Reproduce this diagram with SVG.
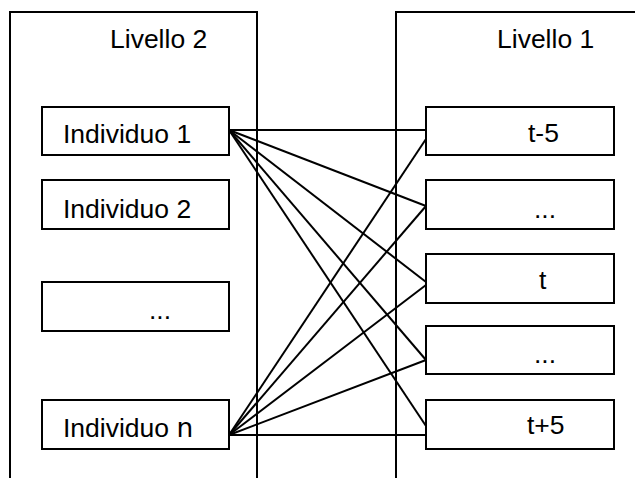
<svg xmlns="http://www.w3.org/2000/svg" width="635" height="478" viewBox="0 0 635 478">
<style>
.frame{fill:none;stroke:#000;stroke-width:2}
.box{fill:#fff;stroke:#000;stroke-width:2}
.lbl{font-family:"Liberation Sans",Arial,sans-serif;font-size:26.5px;fill:#000}
.conn line{stroke:#000;stroke-width:2}
</style>
<rect width="635" height="478" fill="#fff"/>
<g id="livello2">
<rect class="frame" x="10" y="12" width="247" height="500"/>
<text class="lbl" x="110" y="48">Livello 2</text>
</g>
<g id="livello1">
<rect class="frame" x="396" y="12" width="300" height="500"/>
<text class="lbl" x="497" y="48">Livello 1</text>
</g>
<g class="conn" id="connectors">
<line x1="229" y1="130" x2="426" y2="130"/>
<line x1="229" y1="130" x2="426" y2="206"/>
<line x1="229" y1="130" x2="426" y2="282"/>
<line x1="229" y1="130" x2="426" y2="360"/>
<line x1="229" y1="130" x2="426" y2="426"/>
<line x1="229" y1="435" x2="426" y2="139"/>
<line x1="229" y1="435" x2="426" y2="206"/>
<line x1="229" y1="435" x2="426" y2="285"/>
<line x1="229" y1="435" x2="426" y2="360"/>
<line x1="229" y1="435" x2="426" y2="435"/>
</g>
<g id="ind1"><rect class="box" x="42" y="107" width="187" height="48"/><text class="lbl" x="63" y="143">Individuo 1</text></g>
<g id="ind2"><rect class="box" x="42" y="180" width="187" height="49"/><text class="lbl" x="63" y="218">Individuo 2</text></g>
<g id="inddots"><rect class="box" x="42" y="282" width="187" height="49"/><text class="lbl" x="149" y="319">...</text></g>
<g id="indn"><rect class="box" x="42" y="400" width="187" height="49"/><text class="lbl" x="63" y="437">Individuo <tspan font-family="DejaVu Sans">n</tspan></text></g>
<g id="tm5"><rect class="box" x="426" y="107" width="188" height="48"/><text class="lbl" x="528" y="142">t-5</text></g>
<g id="tdots1"><rect class="box" x="426" y="180" width="188" height="49"/><text class="lbl" x="534" y="218">...</text></g>
<g id="t"><rect class="box" x="426" y="254" width="188" height="49"/><text class="lbl" x="539" y="289">t</text></g>
<g id="tdots2"><rect class="box" x="426" y="326" width="188" height="48"/><text class="lbl" x="534" y="363">...</text></g>
<g id="tp5"><rect class="box" x="426" y="400" width="188" height="49"/><text class="lbl" x="527" y="434">t+5</text></g>
</svg>
